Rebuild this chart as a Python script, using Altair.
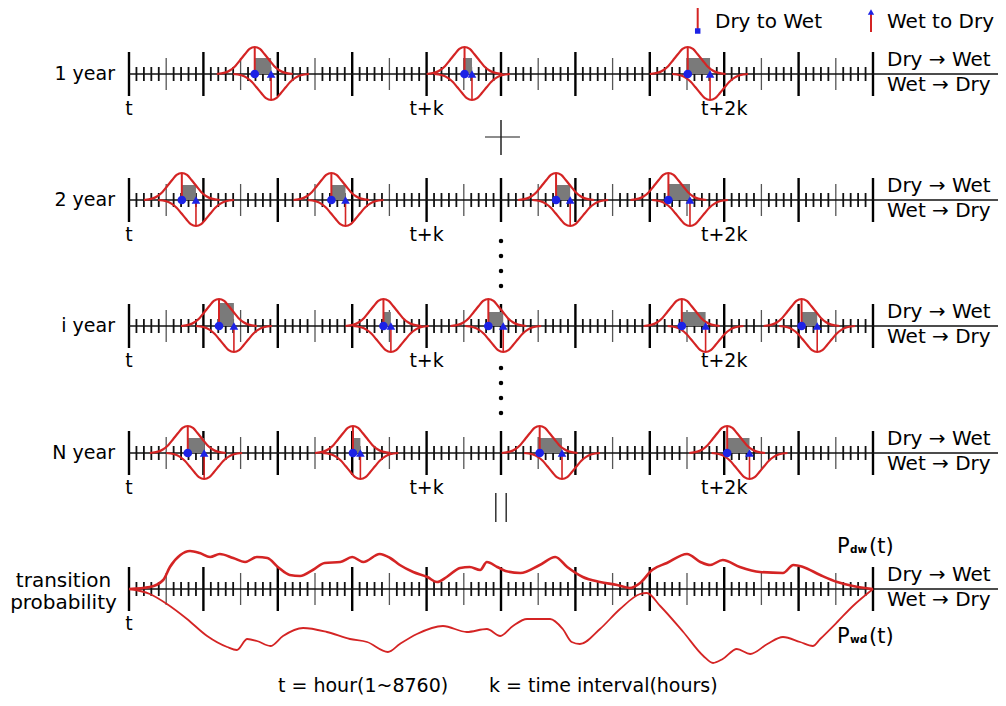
import altair as alt
import pandas as pd

# ---------------- data ----------------
ROW_NAMES = ["1 year", "2 year", "i year", "N year"]
ROW_LEVEL = [74, 200, 326, 453]          # vertical level of each yearly time line (diagram units)
PROB_LEVEL = 589                          # level of the transition-probability line
N_STEPS = 100                             # small time steps from t to the end of the line
T_LABELS = ["t", "t+k", "t+2k"]
T_STEPS = [0, 40, 80]

# events: row index, time step of Dry->Wet peak, time step of Wet->Dry peak, wet-bar height
EV_ROW = [0, 0, 0, 1, 1, 1, 1, 2, 2, 2, 2, 2, 3, 3, 3, 3]
EV_DW = [16.9, 45.1, 75.1, 7.1, 27.2, 57.4, 72.5, 12.1, 34.2, 48.3, 74.3, 90.4, 7.9, 30.1, 55.2, 80.4]
EV_WD = [19.1, 46.1, 78.1, 9.0, 29.1, 59.3, 75.4, 14.1, 35.2, 50.3, 77.5, 92.5, 10.1, 31.1, 58.2, 83.4]
EV_WET = [16, 16, 16, 15, 15, 15, 16, 23, 14, 14, 14, 14, 15, 15, 15, 15]
PEAK_DW = 27
PEAK_WD = 26

# bell profile read from the first event (offset in time steps, relative height)
PROFILE_DX = [-5.1, -4.0, -3.3, -2.6, -2.0, -1.3, -0.7, 0, 0.7, 1.3, 2.0, 2.6, 3.3, 4.0, 5.1]
PROFILE_H = [0, 0.05, 0.14, 0.3, 0.5, 0.74, 0.93, 1, 0.93, 0.74, 0.5, 0.3, 0.14, 0.05, 0]

# transition probability curves (time step, height above / below the line)
PDW_STEP = [0, 2.8, 4.6, 5.5, 6.9, 8.2, 9.5, 10.9, 12.2, 14.0, 15.6, 17.2, 18.6, 20.0, 21.6, 23.0,
            24.7, 26.3, 28.4, 30.0, 31.5, 33.7, 35.1, 36.4, 38.2, 40.1, 41.4, 42.7, 44.5, 45.8,
            47.2, 48.1, 49.5, 50.6, 52.6, 55.2, 57.3, 58.9, 61.0, 63.3, 65.6, 67.3, 68.7, 70.3,
            72.3, 75.0, 76.8, 78.1, 79.8, 82.1, 84.8, 87.9, 89.3, 90.6, 92.9, 95.2, 97.3, 100]
PDW_VAL = [0, 2, 9, 22, 34, 38, 36, 32, 35, 31, 27, 32, 31, 22, 14, 13,
           19, 26, 27, 32, 27, 35, 31, 24, 17, 12, 7, 12, 21, 22,
           19, 27, 22, 18, 16, 24, 32, 22, 12, 7, 4, 1, 6, 19,
           26, 35, 27, 24, 29, 22, 17, 16, 24, 22, 14, 7, 3, 0]
PWD_STEP = [0, 2.8, 5.1, 7.8, 10.5, 13.2, 14.5, 15.9, 17.2, 19.0, 20.7, 23.4, 26.6, 29.7, 32.0,
            34.8, 36.4, 38.7, 42.2, 45.4, 48.1, 49.9, 51.6, 53.5, 56.6, 58.3, 59.5, 60.6, 63.3,
            66.0, 68.7, 69.6, 71.4, 74.5, 77.2, 78.5, 79.8, 81.7, 83.5, 85.8, 87.9, 90.2, 91.9,
            92.9, 95.2, 97.3, 100]
PWD_VAL = [0, 5, 15, 30, 47, 58, 61, 50, 52, 57, 47, 39, 43, 50, 53,
           63, 55, 45, 37, 43, 40, 47, 37, 30, 30, 40, 53, 55, 40,
           20, 5, 4, 17, 43, 67, 74, 70, 60, 65, 55, 48, 53, 57,
           50, 33, 17, 0]

# ---------------- layout / style ----------------
W, H = 990, 690
X0, PX = 129, 7.44
FONT = "DejaVu Sans"
RED = "#d42424"
BLUE = "#1c22e6"
GRAY = "#7a7a7a"

xs = alt.Scale(domain=[(8 - X0) / PX, (8 + W - X0) / PX], nice=False, zero=False)
ys = alt.Scale(domain=[8 + H, 8], nice=False, zero=False)


def X(f):
    return alt.X(f, type="quantitative", scale=xs, axis=None)


def Y(f):
    return alt.Y(f, type="quantitative", scale=ys, axis=None)


levels = ROW_LEVEL + [PROB_LEVEL]

# ticks
tick_rows = []
for lv in levels:
    for s in range(N_STEPS + 1):
        if s % 10 == 0:
            half, w, c = 22, 2.4, "#000000"
        elif s % 5 == 0:
            half, w, c = 16, 1.3, "#555555"
        else:
            half, w, c = 7, 1.8, "#111111"
        tick_rows.append(dict(s=s, y1=lv - half, y2=lv + half, w=w, c=c))
ticks = alt.Chart(pd.DataFrame(tick_rows)).mark_rule().encode(
    x=X("s"), y=Y("y1"), y2="y2",
    strokeWidth=alt.StrokeWidth("w:Q", scale=None),
    color=alt.Color("c:N", scale=None),
)

base_df = pd.DataFrame({"s0": [0] * len(levels), "s1": [117.2] * len(levels), "lv": levels})
baselines = alt.Chart(base_df).mark_rule(color="#111111", strokeWidth=1.6).encode(
    x=X("s0"), x2="s1", y=Y("lv"))

# events
ev = pd.DataFrame({"row": EV_ROW, "dw": EV_DW, "wd": EV_WD, "wet": EV_WET})
ev["lv"] = [ROW_LEVEL[r] for r in ev["row"]]
ev["wet_top"] = ev["lv"] - ev["wet"]
ev["dw_top"] = ev["lv"] - PEAK_DW
ev["wd_bot"] = ev["lv"] + PEAK_WD

bell_rows = []
for i, r in ev.iterrows():
    for dx, h in zip(PROFILE_DX, PROFILE_H):
        bell_rows.append(dict(id=f"dw{i}", u=r["dw"] + dx, y=r["lv"] - PEAK_DW * h))
        bell_rows.append(dict(id=f"wd{i}", u=r["wd"] + dx, y=r["lv"] + PEAK_WD * h))
bells = alt.Chart(pd.DataFrame(bell_rows)).mark_line(
    color=RED, strokeWidth=2.2, interpolate="monotone").encode(
    x=X("u"), y=Y("y"), detail="id:N")

wet_bars = alt.Chart(ev).mark_rect(color=GRAY).encode(x=X("dw"), x2="wd", y=Y("wet_top"), y2="lv")
dw_rules = alt.Chart(ev).mark_rule(color=RED, strokeWidth=2).encode(x=X("dw"), y=Y("lv"), y2="dw_top")
wd_rules = alt.Chart(ev).mark_rule(color=RED, strokeWidth=1.6).encode(x=X("wd"), y=Y("lv"), y2="wd_bot")
dw_pts = alt.Chart(ev).mark_point(shape="circle", filled=True, size=75, color=BLUE, opacity=1).encode(
    x=X("dw"), y=Y("lv"))
wd_pts = alt.Chart(ev).mark_point(shape="triangle-up", filled=True, size=75, color=BLUE, opacity=1).encode(
    x=X("wd"), y=Y("lv"))

# probability curves
pdw = pd.DataFrame({"u": PDW_STEP, "v": PDW_VAL})
pdw["y"] = PROB_LEVEL - pdw["v"]
pwd = pd.DataFrame({"u": PWD_STEP, "v": PWD_VAL})
pwd["y"] = PROB_LEVEL + pwd["v"]
pdw_line = alt.Chart(pdw).mark_line(color=RED, strokeWidth=2.6, interpolate="monotone").encode(
    x=X("u"), y=Y("y"))
pwd_line = alt.Chart(pwd).mark_line(color=RED, strokeWidth=1.8, interpolate="monotone").encode(
    x=X("u"), y=Y("y"))

# labels on the lines
rows_df = pd.DataFrame({"name": ROW_NAMES, "lv": ROW_LEVEL})
row_text = alt.Chart(rows_df).mark_text(align="right", baseline="middle", fontSize=19, font=FONT,
                                        color="#000").encode(
    x=alt.value(107), y=Y("lv"), text="name:N")

tl_rows = []
for lv in ROW_LEVEL:
    for lab, s in zip(T_LABELS, T_STEPS):
        tl_rows.append(dict(lab=lab, s=s, ty=lv + 41))
tl_rows.append(dict(lab="t", s=0, ty=PROB_LEVEL + 41))
tlab = alt.Chart(pd.DataFrame(tl_rows)).mark_text(align="center", baseline="alphabetic", fontSize=19,
                                                   font=FONT, color="#000").encode(
    x=X("s"), y=Y("ty"), text="lab:N")

dir_rows = []
for lv in levels:
    dir_rows.append(dict(lab="Dry \u2192 Wet", ty=lv - 8))
    dir_rows.append(dict(lab="Wet \u2192 Dry", ty=lv + 17))
dir_text = alt.Chart(pd.DataFrame(dir_rows)).mark_text(align="left", baseline="alphabetic", fontSize=20,
                                                        font=FONT, color="#000").encode(
    x=alt.value(879), y=Y("ty"), text="lab:N")

# separators between rows, all at the middle of the time line
sep_h = pd.DataFrame({"a": [47.85], "b": [52.55], "y": [137]})
sep_v = pd.DataFrame({"s": [50], "y1": [120], "y2": [155]})
cross_h = alt.Chart(sep_h).mark_rule(color="#666666", strokeWidth=1.5).encode(x=X("a"), x2="b", y=Y("y"))
cross_v = alt.Chart(sep_v).mark_rule(color="#222222", strokeWidth=1.5).encode(x=X("s"), y=Y("y1"), y2="y2")
dots = alt.Chart(pd.DataFrame({"s": [50] * 8, "y": [241, 256, 271, 286, 368, 383, 398, 413]})).mark_circle(
    size=20, color="#000000", opacity=1).encode(x=X("s"), y=Y("y"))
eq = alt.Chart(pd.DataFrame({"s": [49.3, 50.7], "y1": [493, 493], "y2": [522, 522]})).mark_rule(
    color="#333333", strokeWidth=1.5).encode(x=X("s"), y=Y("y1"), y2="y2")


def label(text, x, y, size=19, align="left", weight="normal"):
    return alt.Chart(pd.DataFrame({"t": [text]})).mark_text(
        align=align, baseline="alphabetic", fontSize=size, font=FONT, color="#000", fontWeight=weight
    ).encode(x=alt.value(x), y=alt.value(y), text="t:N")


annots = [
    label("transition", 55.5, 579, 20, "center"),
    label("probability", 55.5, 601, 20, "center"),
    label("Dry to Wet", 707, 20, 20),
    label("Wet to Dry", 879, 20, 20),
    label("P", 829, 545, 21),
    label("dw", 842, 545, 10.5, weight="bold"),
    label("(t)", 861, 545, 21),
    label("P", 829, 635, 21),
    label("wd", 842, 635, 10.5, weight="bold"),
    label("(t)", 861, 635, 21),
    label("t = hour(1~8760)", 270, 684, 19),
    label("k = time interval(hours)", 481, 684, 19),
]

leg_dw = alt.Chart(pd.DataFrame({"k": [0]})).mark_rule(color=RED, strokeWidth=2).encode(
    x=alt.value(689.7), y=alt.value(0), y2=alt.value(21))
leg_dw_pt = alt.Chart(pd.DataFrame({"k": [0]})).mark_point(shape="square", filled=True, size=30,
                                                          color=BLUE, opacity=1).encode(
    x=alt.value(689.7), y=alt.value(23))
leg_wd = alt.Chart(pd.DataFrame({"k": [0]})).mark_rule(color=RED, strokeWidth=2).encode(
    x=alt.value(863), y=alt.value(5), y2=alt.value(24))
leg_wd_pt = alt.Chart(pd.DataFrame({"k": [0]})).mark_point(shape="triangle-up", filled=True, size=40,
                                                          color=BLUE, opacity=1).encode(
    x=alt.value(863), y=alt.value(4))

chart = alt.layer(
    ticks, baselines, wet_bars, bells, dw_rules, wd_rules, dw_pts, wd_pts,
    pdw_line, pwd_line, row_text, tlab, dir_text,
    cross_h, cross_v, dots, eq,
    leg_dw, leg_dw_pt, leg_wd, leg_wd_pt,
    *annots,
).properties(
    width=W, height=H, padding=0, autosize=alt.AutoSizeParams(type="none")
).configure_view(strokeWidth=0)

chart.save("out.html", embed_options={"renderer": "svg", "actions": False})
